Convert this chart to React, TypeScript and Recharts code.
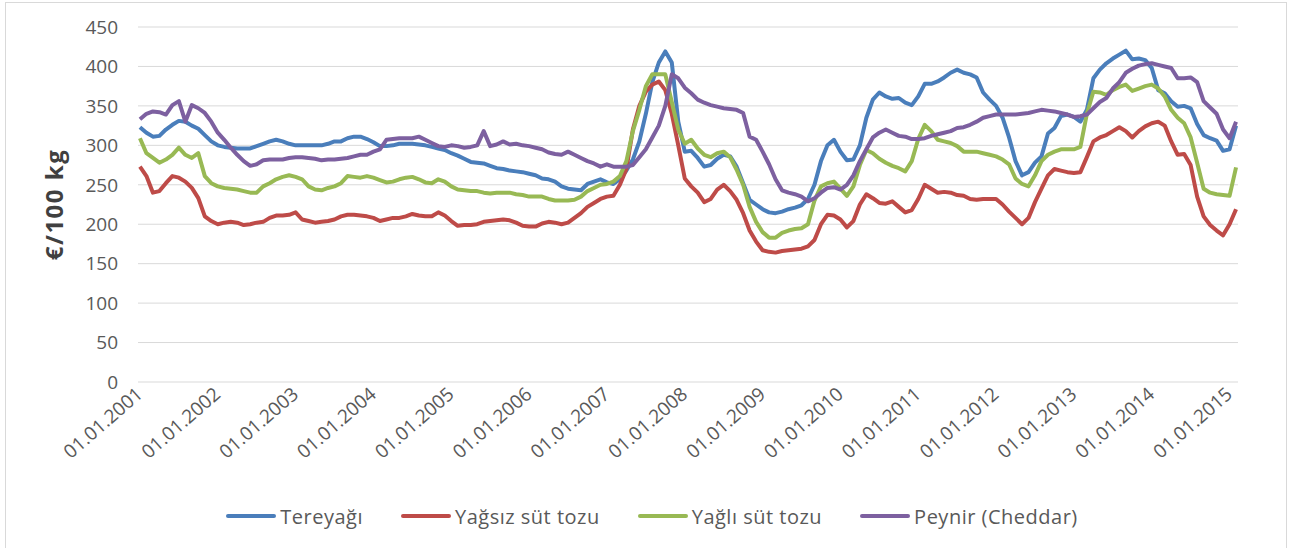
import { LineChart, Line, XAxis, YAxis, CartesianGrid, Legend } from 'recharts'

// monthly prices, €/100 kg, starting 01.01.2001 (index = month)
const TEREYAGI = [
  323, 316, 311, 312, 320, 326, 331, 330, 325, 321, 313, 305,
  300, 298, 297, 296, 296, 296, 299, 302, 305, 307, 305, 302,
  300, 300, 300, 300, 300, 302, 305, 305, 309, 311, 311, 308,
  304, 299, 299, 300, 302, 302, 302, 301, 300, 298, 296, 294,
  290, 287, 283, 279, 278, 277, 274, 271, 270, 268, 267, 266,
  264, 262, 258, 257, 254, 248, 245, 244, 243, 251, 254, 257,
  253, 251, 257, 268, 282, 305, 340, 380, 405, 419, 405, 330,
  292, 293, 284, 273, 275, 283, 288, 286, 273, 252, 231, 225,
  219, 215, 214, 216, 219, 221, 224, 232, 250, 280, 300, 307,
  292, 281, 282, 300, 335, 358, 367, 362, 359, 360, 354, 351,
  362, 378, 378, 381, 386, 392, 396, 392, 390, 386, 367, 358,
  350, 335, 310, 280, 262, 266, 278, 286, 315, 322, 337, 339,
  336, 330, 345, 385, 396, 404, 410, 415, 420, 409, 410, 408,
  398, 370, 366, 356, 349, 350, 347, 327, 313, 309, 306, 293,
  295, 325,
]

const YAGSIZ = [
  273, 261, 240, 242, 252, 261, 259, 254, 246, 233, 210, 204,
  200, 202, 203, 202, 199, 200, 202, 203, 208, 211, 211, 212,
  215, 206, 204, 202, 203, 204, 206, 210, 212, 212, 211, 210,
  208, 204, 206, 208, 208, 210, 213, 211, 210, 210, 215, 211,
  204, 198, 199, 199, 200, 203, 204, 205, 206, 205, 202, 198,
  197, 197, 201, 203, 202, 200, 202, 208, 214, 222, 227, 232,
  235, 236, 250, 270, 320, 350, 368, 377, 381, 370, 340, 300,
  258, 248, 240, 228, 232, 244, 250, 242, 231, 214, 192, 178,
  167, 165, 164, 166, 167, 168, 169, 172, 180, 200, 212, 211,
  206, 196, 204, 225, 238, 233, 227, 226, 229, 222, 215, 218,
  232, 250, 245, 240, 241, 240, 237, 236, 232, 231, 232, 232,
  232, 225, 216, 208, 200, 208, 228, 245, 262, 270, 268, 266,
  265, 266, 285, 305, 310, 313, 318, 323, 318, 310, 318, 324,
  328, 330, 325, 305, 288, 289, 275, 235, 210, 199, 192, 186,
  200, 219,
]

const YAGLI = [
  309, 290, 284, 278, 282, 288, 297, 288, 284, 290, 261, 252,
  248, 246, 245, 244, 242, 240, 240, 248, 252, 257, 260, 262,
  260, 257, 248, 244, 243, 246, 248, 252, 261, 260, 259, 261,
  259, 256, 253, 254, 257, 259, 260, 257, 253, 252, 257, 254,
  248, 244, 243, 242, 242, 240, 239, 240, 240, 240, 238, 237,
  235, 235, 235, 232, 230, 230, 230, 231, 235, 242, 246, 250,
  251, 254, 261, 280, 318, 345, 375, 390, 390, 390, 355, 320,
  302, 307, 296, 288, 285, 290, 292, 285, 269, 250, 222, 203,
  190, 183, 183, 189, 192, 194, 195, 200, 230, 248, 252, 254,
  245, 236, 248, 275, 294, 290, 283, 278, 274, 271, 267, 280,
  308, 326, 318, 307, 305, 303, 299, 292, 292, 292, 290, 288,
  286, 282, 276, 258, 251, 248, 262, 280, 288, 292, 295, 295,
  295, 298, 340, 368, 367, 364, 370, 374, 377, 369, 372, 375,
  377, 372, 362, 345, 335, 328, 310, 278, 245, 240, 238, 237,
  236, 272,
]

const PEYNIR = [
  333, 340, 343, 342, 339, 351, 356, 330, 351, 347, 341, 330,
  316, 307, 297, 288, 280, 274, 276, 281, 282, 282, 282, 284,
  285, 285, 284, 283, 281, 282, 282, 283, 284, 286, 288, 288,
  292, 295, 307, 308, 309, 309, 309, 311, 307, 303, 299, 298,
  300, 299, 297, 298, 300, 318, 299, 301, 305, 301, 302, 300,
  299, 297, 295, 291, 289, 288, 292, 288, 284, 280, 277, 273,
  276, 273, 273, 273, 275, 285, 295, 310, 325, 350, 390, 385,
  373, 366, 358, 354, 351, 349, 347, 346, 345, 341, 311, 307,
  292, 276, 257, 243, 240, 238, 235, 229, 233, 240, 246, 247,
  244, 250, 262, 280, 295, 310, 316, 320, 316, 312, 311, 308,
  308, 309, 312, 314, 316, 318, 322, 323, 326, 330, 335, 337,
  339, 339, 339, 339, 340, 341, 343, 345, 344, 343, 341, 339,
  336, 337, 339, 347, 355, 360, 372, 380, 392, 397, 401, 403,
  404, 402, 400, 398, 385, 385, 386, 380, 356, 348, 340, 320,
  309, 330,
]

const TICK_YEARS = [2001, 2002, 2003, 2004, 2005, 2006, 2007, 2008, 2009, 2010, 2011, 2012, 2013, 2014, 2015]
const Y_TICKS = [0, 50, 100, 150, 200, 250, 300, 350, 400, 450]

const SERIES = [
  { key: 'tereyagi', name: 'Tereyağı', color: '#4a7ebb' },
  { key: 'yagsiz', name: 'Yağsız süt tozu', color: '#be4b48' },
  { key: 'yagli', name: 'Yağlı süt tozu', color: '#98b954' },
  { key: 'peynir', name: 'Peynir (Cheddar)', color: '#7d60a0' },
]

const data = TEREYAGI.map((v, i) => ({
  m: i,
  tereyagi: v,
  yagsiz: YAGSIZ[i],
  yagli: YAGLI[i],
  peynir: PEYNIR[i],
}))

const FONT = '"Open Sans", Lato, sans-serif'
const TEXT = '#595959'

function DateTick(props: any) {
  const { x, y, payload } = props
  const year = 2001 + Math.round(payload.value / 12)
  return (
    <text
      transform={`translate(${x + 4},${y + 6}) rotate(-41)`}
      textAnchor="end"
      fill={TEXT}
      fontSize={19}
      fontFamily={FONT}
    >
      {`01.01.${year}`}
    </text>
  )
}

function LegendRow() {
  return (
    <div style={{ display: 'flex', justifyContent: 'center', alignItems: 'center', height: 40, paddingLeft: 8, fontFamily: FONT, fontSize: 20, letterSpacing: 0.5, color: TEXT }}>
      {SERIES.map((s, i) => (
        <div key={s.key} style={{ display: 'flex', alignItems: 'center', marginRight: i < SERIES.length - 1 ? 38 : 0 }}>
          <span style={{ display: 'inline-block', width: 50, height: 4, borderRadius: 2, background: s.color, marginRight: 4 }} />
          <span>{s.name}</span>
        </div>
      ))}
    </div>
  )
}

export default function App() {
  return (
    <div style={{ position: 'fixed', left: 0, top: 0, width: 1296, height: 548, overflow: 'hidden', background: '#fff' }}>
      <div style={{ position: 'absolute', left: 5, top: 2, width: 1280, height: 560, border: '1px solid #d9d9d9' }} />
      <LineChart width={1296} height={548} data={data} margin={{ top: 27, right: 58, bottom: 12, left: 20 }}>
        <CartesianGrid vertical={false} stroke="#d9d9d9" strokeWidth={1} />
        <XAxis
          dataKey="m"
          type="number"
          domain={[-0.3, 169.3]}
          ticks={TICK_YEARS.map((y) => (y - 2001) * 12)}
          tick={<DateTick />}
          tickLine={false}
          axisLine={false}
          interval={0}
          height={114}
        />
        <YAxis
          domain={[0, 450]}
          ticks={Y_TICKS}
          width={118}
          tickLine={false}
          axisLine={false}
          tickMargin={14}
          tick={{ fill: TEXT, fontSize: 19, fontFamily: FONT }}
          label={{
            value: '€/100 kg',
            angle: -90,
            position: 'insideLeft',
            offset: 34,
            style: { textAnchor: 'middle', fill: '#404040', fontSize: 24, fontWeight: 'bold', letterSpacing: 1.5, fontFamily: FONT },
          }}
        />
        <Legend verticalAlign="bottom" wrapperStyle={{ left: 0, width: 1296 }} content={<LegendRow />} />
        {SERIES.map((s) => (
          <Line
            key={s.key}
            type="linear"
            dataKey={s.key}
            name={s.name}
            stroke={s.color}
            strokeWidth={4}
            strokeLinejoin="round"
            dot={false}
            activeDot={false}
            isAnimationActive={false}
          />
        ))}
      </LineChart>
    </div>
  )
}
